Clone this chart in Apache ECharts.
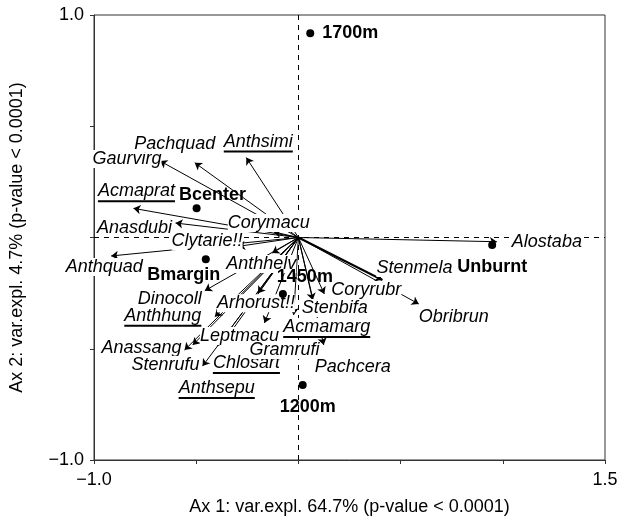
<!DOCTYPE html>
<html>
<head>
<meta charset="utf-8">
<script src="https://cdn.jsdelivr.net/npm/echarts@6/dist/echarts.min.js"></script>
<style>
html,body{margin:0;padding:0;background:#fff;}
#c{width:626px;height:521px;}
</style>
</head>
<body>
<div id="c"></div>
<script>
// ---------- data ----------
const species = ['Gaurvirg','Pachquad','Anthsimi','Acmaprat','Anasdubi','Corymacu','Clytarie!!','Anthquad',
  'Anthhelv','Dinocoll','Anthhung','Arhorust!!','Anassang','Leptmacu','Chlosart','Stenrufu','Anthsepu',
  'Gramrufi','Acmamarg','Pachcera','Stenbifa','Coryrubr','Stenmela','Obribrun','Alostaba'];
const speciesAx1 = [-0.677,-0.507,-0.255,-0.807,-0.601,-0.120,-0.295,-0.916,
  -0.128,-0.458,-0.409,-0.198,-0.557,-0.396,-0.362,-0.469,-0.517,
  -0.166,-0.023,0.124,0.070,0.127,0.411,0.589,0.971];
const speciesAx2 = [0.344,0.336,0.359,0.131,0.065,0.025,-0.040,-0.083,
  -0.070,-0.239,-0.356,-0.251,-0.506,-0.488,-0.465,-0.578,-0.483,
  -0.384,-0.348,-0.483,-0.281,-0.254,-0.191,-0.299,-0.019];
const underlinedSpecies = ['Anthsimi','Acmaprat','Anthhung','Chlosart','Anthsepu','Acmamarg'];

const samples = ['1700m','Bcenter','Bmargin','1450m','Unburnt','1200m'];
const samplesAx1 = [0.058,-0.498,-0.453,-0.076,0.948,0.021];
const samplesAx2 = [0.918,0.131,-0.098,-0.254,-0.034,-0.663];

const xTickValues = [-1, 1.5];
const xTickLabels = ['\u22121.0', '1.5'];
const yTickValues = [-1, 1];
const yTickLabels = ['\u22121.0', '1.0'];
const xTitle = 'Ax 1: var.expl. 64.7% (p-value < 0.0001)';
const yTitle = 'Ax 2: var.expl. 4.7% (p-value < 0.0001)';

// ---------- layout (label placement in px relative to the mark) ----------
const speciesLabelOffset = {
  'Gaurvirg':[-33,-2],'Pachquad':[-20,-19],'Anthsimi':[12,-16],'Acmaprat':[3,-17],'Anasdubi':[-41,5],
  'Corymacu':[-5,-9],'Clytarie!!':[-31,-5],'Anthquad':[-7,11],'Anthhelv':[-11,11],'Dinocoll':[-35,8],
  'Anthhung':[-52,-1],'Arhorust!!':[-2,10],'Anassang':[-43,-2],'Leptmacu':[22,-10],'Chlosart':[22,22],
  'Stenrufu':[-37,-1],'Anthsepu':[24,43],'Gramrufi':[20,27],'Acmamarg':[33,12],'Pachcera':[29,22],
  'Stenbifa':[22,8],'Coryrubr':[42,-4],'Stenmela':[32,-12],'Obribrun':[35,13],'Alostaba':[50,0]
};
const sampleLabelOffset = {
  '1700m':[40,0],'Bcenter':[16,-13],'Bmargin':[-22,16],'1450m':[22,-17],'Unburnt':[0,22],'1200m':[5,22]
};

const FONT_FAMILY = '"Liberation Sans", Arial, Helvetica, sans-serif';
const ITALIC_FONT = 'italic 18px ' + FONT_FAMILY;
const measureCtx = document.createElement('canvas').getContext('2d');
function textWidth(t, font){ measureCtx.font = font; return measureCtx.measureText(t).width; }

const chart = echarts.init(document.getElementById('c'), null, {renderer:'canvas'});

const option = {
  animation: false,
  textStyle: {fontFamily: FONT_FAMILY},
  grid: {left: 92, top: 15, right: 21, bottom: 61, show: true, borderColor: '#333', borderWidth: 1, containLabel: false},
  xAxis: {
    type: 'value', min: -1, max: 1.5, interval: 0.5,
    axisLine: {onZero: false, lineStyle: {color: '#333', width: 1}},
    axisTick: {show: true, length: 4, lineStyle: {color: '#333'}},
    splitLine: {show: false},
    axisLabel: {
      fontSize: 18, color: '#000', margin: 11, showMinLabel: true, showMaxLabel: true,
      formatter: function(v){ const k = xTickValues.findIndex(t => Math.abs(t - v) < 1e-9); return k >= 0 ? xTickLabels[k] : ''; }
    },
    name: xTitle, nameLocation: 'middle', nameGap: 38,
    nameTextStyle: {fontSize: 18, color: '#000'}
  },
  yAxis: {
    type: 'value', min: -1, max: 1, interval: 0.5,
    axisLine: {onZero: false, lineStyle: {color: '#333', width: 1}},
    axisTick: {show: true, length: 4, lineStyle: {color: '#333'}},
    splitLine: {show: false},
    axisLabel: {
      fontSize: 18, color: '#000', margin: 10, showMinLabel: true, showMaxLabel: true,
      formatter: function(v){ const k = yTickValues.findIndex(t => Math.abs(t - v) < 1e-9); return k >= 0 ? yTickLabels[k] : ''; }
    },
    name: yTitle, nameLocation: 'middle', nameGap: 68, nameRotate: 90,
    nameTextStyle: {fontSize: 18, color: '#000'}
  },
  series: [
    { // reference dashed lines through origin
      type: 'scatter', data: [[0, 0]], symbolSize: 0, z: 1, silent: true,
      markLine: {
        silent: true, symbol: 'none', label: {show: false}, animation: false,
        lineStyle: {type: [5, 5], color: '#000', width: 1, opacity: 1},
        data: [{xAxis: 0}, {yAxis: 0}]
      }
    },
    { // species arrows
      type: 'lines', coordinateSystem: 'cartesian2d', z: 3, silent: true,
      symbol: ['none', 'arrow'], symbolSize: 7,
      lineStyle: {color: '#000', width: 1, opacity: 1},
      data: species.map((s, i) => ({
        coords: [[0, 0], [speciesAx1[i], speciesAx2[i]]],
        lineStyle: s === 'Stenmela' ? {width: 2} : {width: 1}
      }))
    },
    { // species labels
      type: 'custom', z: 5, silent: true,
      data: species.map((s, i) => [speciesAx1[i], speciesAx2[i], i]),
      renderItem: function(params, api){
        const i = api.value(2);
        const name = species[i];
        const p = api.coord([api.value(0), api.value(1)]);
        const off = speciesLabelOffset[name] || [0, 0];
        const cx = p[0] + off[0], cy = p[1] + off[1];
        const children = [{
          type: 'text', x: cx, y: cy,
          style: {text: name, font: ITALIC_FONT, fill: '#000', align: 'center', verticalAlign: 'middle', backgroundColor: '#fff'}
        }];
        if (underlinedSpecies.indexOf(name) >= 0) {
          const w = textWidth(name, ITALIC_FONT);
          children.push({type: 'line', shape: {x1: cx - w/2, y1: cy + 10, x2: cx + w/2, y2: cy + 10},
            style: {stroke: '#000', lineWidth: 2}});
        }
        return {type: 'group', children: children};
      }
    },
    { // sample points
      type: 'scatter', z: 10, symbol: 'circle', symbolSize: 8,
      itemStyle: {color: '#000', opacity: 1},
      label: {show: true, position: 'inside', formatter: '{b}', fontSize: 18, fontWeight: 'bold', color: '#000', opacity: 1},
      data: samples.map((s, i) => ({
        name: s, value: [samplesAx1[i], samplesAx2[i]],
        label: {offset: sampleLabelOffset[s]}
      }))
    }
  ]
};
chart.setOption(option);
</script>
</body>
</html>
